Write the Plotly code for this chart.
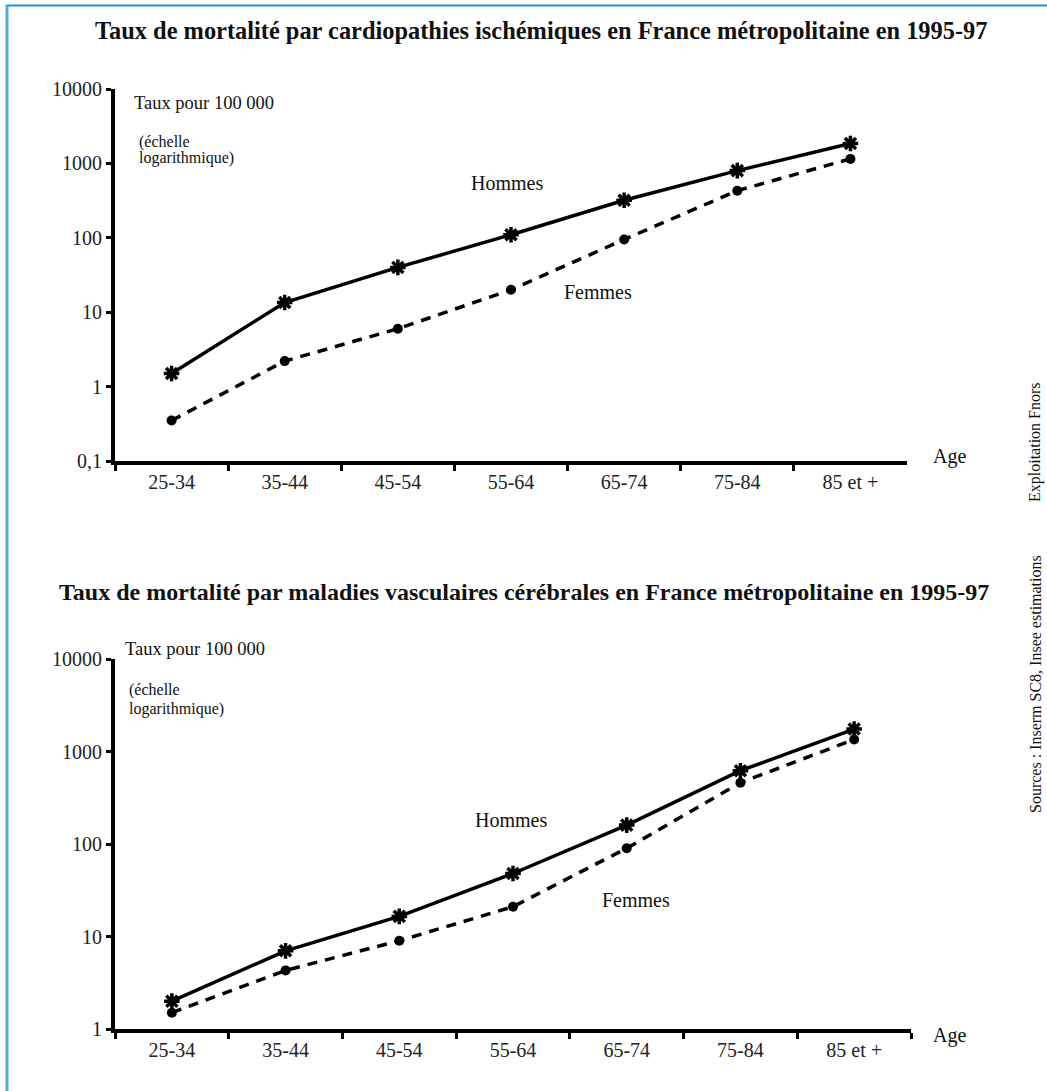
import plotly.graph_objects as go

W, H = 1047, 1091

ages = ["25-34", "35-44", "45-54", "55-64", "65-74", "75-84", "85 et +"]

# Cardiopathies ischémiques (taux pour 100 000)
cardio_hommes = [1.5, 13.5, 40, 110, 320, 800, 1850]
cardio_femmes = [0.35, 2.2, 6.0, 20, 95, 430, 1150]

# Maladies vasculaires cérébrales (taux pour 100 000)
avc_hommes = [2.0, 7.0, 16.5, 48, 160, 620, 1750]
avc_femmes = [1.5, 4.3, 9.0, 21, 90, 460, 1350]

y1_tickvals = [0.1, 1, 10, 100, 1000, 10000]
y1_ticktext = ["0,1", "1", "10", "100", "1000", "10000"]
y2_tickvals = [1, 10, 100, 1000, 10000]
y2_ticktext = ["1", "10", "100", "1000", "10000"]

title1 = "Taux de mortalité par cardiopathies ischémiques en France métropolitaine en 1995-97"
title2 = "Taux de mortalité par maladies vasculaires cérébrales en France métropolitaine en 1995-97"

FONT = "Liberation Serif"


def fx(x):
    return x / W


def fy(y):
    return 1 - y / H


fig = go.Figure()

star = dict(symbol="asterisk-open", size=13, color="black", line=dict(color="black", width=3.5))
dot = dict(symbol="circle", size=10, color="black")

fig.add_trace(go.Scatter(x=ages, y=cardio_hommes, mode="lines+markers", xaxis="x", yaxis="y",
                         line=dict(color="black", width=3.5), marker=star, name="Hommes"))
fig.add_trace(go.Scatter(x=ages, y=cardio_femmes, mode="lines+markers", xaxis="x", yaxis="y",
                         line=dict(color="black", width=3.5, dash="10px,8px"), marker=dot, name="Femmes"))
fig.add_trace(go.Scatter(x=ages, y=avc_hommes, mode="lines+markers", xaxis="x2", yaxis="y2",
                         line=dict(color="black", width=3.5), marker=star, name="Hommes"))
fig.add_trace(go.Scatter(x=ages, y=avc_femmes, mode="lines+markers", xaxis="x2", yaxis="y2",
                         line=dict(color="black", width=3.5, dash="10px,8px"), marker=dot, name="Femmes"))

xcommon = dict(type="category", range=[-0.5, 6.5], showline=True, linecolor="black", linewidth=4,
               ticks="outside", tickson="boundaries", ticklen=6, tickwidth=3, tickcolor="black",
               showgrid=False, zeroline=False, fixedrange=True, automargin=False,
               tickfont=dict(family=FONT, size=20, color="#222"))
ycommon = dict(type="log", showline=True, linecolor="black", linewidth=4,
               ticks="outside", ticklen=5, tickwidth=3, tickcolor="black",
               showgrid=False, zeroline=False, fixedrange=True, automargin=False,
               tickfont=dict(family=FONT, size=20, color="#222"))

fig.update_layout(
    template="none",
    width=W, height=H, autosize=False,
    margin=dict(l=0, r=0, t=0, b=0, pad=0),
    paper_bgcolor="white", plot_bgcolor="white",
    showlegend=False,
    font=dict(family=FONT, color="#111"),
    xaxis=dict(domain=[fx(115), fx(907)], anchor="y", **xcommon),
    yaxis=dict(domain=[fy(461), fy(89)], anchor="x", range=[-1, 4],
               tickvals=y1_tickvals, ticktext=y1_ticktext, **ycommon),
    xaxis2=dict(domain=[fx(115), fx(911)], anchor="y2", **xcommon),
    yaxis2=dict(domain=[fy(1029), fy(659)], anchor="x2", range=[0, 4],
                tickvals=y2_tickvals, ticktext=y2_ticktext, **ycommon),
)


def ann(text, x, y, size, xanchor="left", bold=False, angle=0):
    fig.add_annotation(text=f"<b>{text}</b>" if bold else text, x=fx(x), y=fy(y),
                       xref="paper", yref="paper", showarrow=False, xanchor=xanchor,
                       yanchor="middle", textangle=angle,
                       font=dict(family=FONT, size=size, color="#111"))


# Titles
ann(title1, 541, 31, 24.4, xanchor="center", bold=True)
ann(title2, 524, 592, 24, xanchor="center", bold=True)

# Top chart labels
ann("Taux pour 100 000", 132, 103, 18.5)
ann("(échelle", 137, 142, 16)
ann("logarithmique)", 137, 158, 16)
ann("Hommes", 507, 183, 20, xanchor="center")
ann("Femmes", 598, 292, 20, xanchor="center")
ann("Age", 931, 456, 20)

# Bottom chart labels
ann("Taux pour 100 000", 123, 649, 18.5)
ann("(échelle", 127, 690, 16)
ann("logarithmique)", 127, 709, 16)
ann("Hommes", 511, 820, 20, xanchor="center")
ann("Femmes", 636, 900, 20, xanchor="center")
ann("Age", 931, 1035, 20)

# Side notes
ann("Exploitation Fnors", 1035, 442, 16, xanchor="center", angle=-90)
ann("Sources : Inserm SC8, Insee estimations", 1035, 684, 16, xanchor="center", angle=-90)

# Frame
fig.add_shape(type="line", xref="paper", yref="paper", x0=fx(6), x1=1, y0=fy(5.5), y1=fy(5.5),
              line=dict(color="#1f8fd0", width=2))
fig.add_shape(type="line", xref="paper", yref="paper", x0=fx(7), x1=fx(7), y0=fy(5), y1=0,
              line=dict(color="#55aad8", width=3))

fig.write_html("out.html", config={"displayModeBar": False},
               post_script="document.body.style.margin='0';document.body.style.overflow='hidden';")
